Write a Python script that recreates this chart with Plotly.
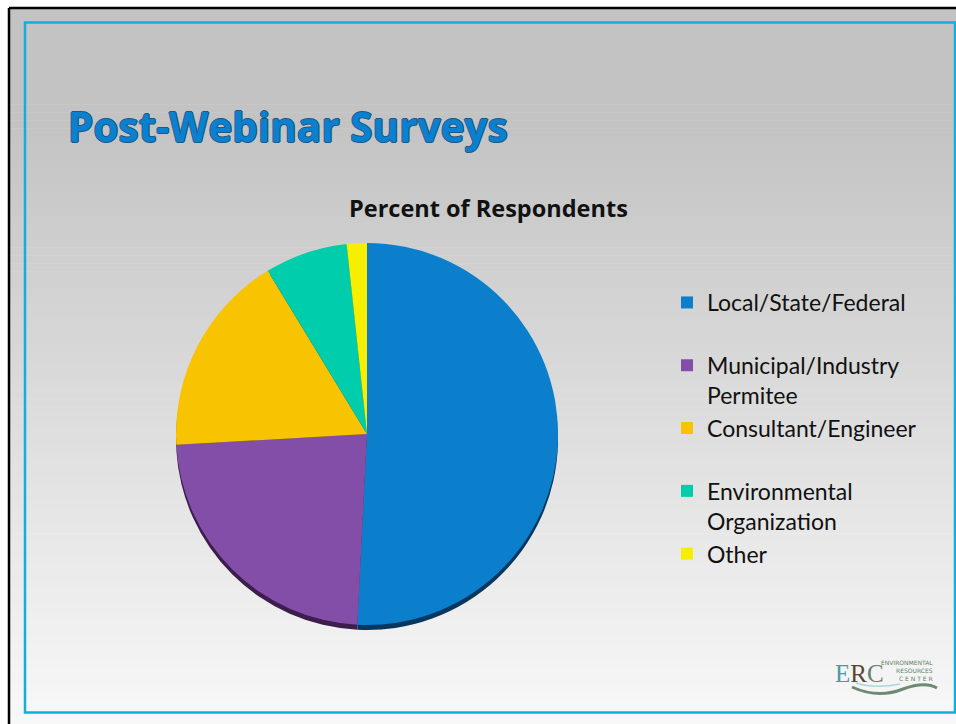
import plotly.graph_objects as go

W, H = 956, 724

# ---- data ----
categories = ["Local/State/Federal", "Municipal/Industry Permitee", "Consultant/Engineer",
              "Environmental Organization", "Other"]
legend_labels = ["Local/State/Federal<br> ", "Municipal/Industry<br>Permitee",
                 "Consultant/Engineer<br> ", "Environmental<br>Organization", "Other<br> "]
percent_values = [50.8, 23.3, 17.2, 7.0, 1.7]
slice_colors = ["#0b7fcb", "#834ea8", "#f8c300", "#00cdab", "#f6ef00"]
shadow_colors = ["#07375e", "#3c1d4c", "#6a5200", "#005a4a", "#6a6600"]

title_text = "Post-Webinar Surveys"
chart_title = "Percent of Respondents"


def px(x):
    return x / W


def py(y):
    return 1 - y / H


shapes = []
shapes.append(dict(type="rect", xref="paper", yref="paper", x0=0, x1=1, y0=0, y1=1,
                   fillcolor="white", line=dict(width=0), layer="below"))
# gradient background (horizontal strips)
n = 90
top_y, bot_y = 9, H
c0 = (195, 195, 195)
c1 = (248, 248, 248)
for i in range(n):
    ya = top_y + (bot_y - top_y) * i / n
    yb = top_y + (bot_y - top_y) * (i + 1) / n
    t = i / (n - 1)
    tt = max(0.0, (t - 0.15) / 0.85)
    col = tuple(int(round(c0[k] + (c1[k] - c0[k]) * tt)) for k in range(3))
    shapes.append(dict(type="rect", xref="paper", yref="paper",
                       x0=px(10), x1=1.0, y0=py(yb + 0.5), y1=py(ya),
                       fillcolor="rgb(%d,%d,%d)" % col, line=dict(width=0), layer="below"))
# black frame lines
shapes.append(dict(type="line", xref="paper", yref="paper", x0=px(9), x1=1, y0=py(8), y1=py(8),
                   line=dict(color="black", width=2.5), layer="below"))
shapes.append(dict(type="line", xref="paper", yref="paper", x0=px(9), x1=px(9), y0=py(8), y1=0,
                   line=dict(color="black", width=2.5), layer="below"))
# cyan inner frame
shapes.append(dict(type="rect", xref="paper", yref="paper", x0=px(25), x1=px(955), y0=py(712.5), y1=py(22.5),
                   fillcolor="rgba(0,0,0,0)", line=dict(color="#0fb0de", width=2.5), layer="below"))
# logo wave
shapes.append(dict(type="path", xref="paper", yref="paper",
                   path="M %f,%f Q %f,%f %f,%f Q %f,%f %f,%f" % (
                       px(852), py(687), px(878), py(699), px(903), py(689),
                       px(925), py(681), px(937), py(688)),
                   line=dict(color="#6f8a72", width=3), fillcolor="rgba(0,0,0,0)"))
shapes.append(dict(type="path", xref="paper", yref="paper",
                   path="M %f,%f Q %f,%f %f,%f" % (px(856), py(683), px(875), py(689), px(900), py(684)),
                   line=dict(color="#a9d6dc", width=1.5), fillcolor="rgba(0,0,0,0)"))

cx, cy, r = 367, 434, 191
sh = 5

fig = go.Figure()
fig.add_trace(go.Pie(
    labels=[c + " (shadow)" for c in categories], values=percent_values, sort=False,
    direction="clockwise", rotation=0, showlegend=False, textinfo="none", hoverinfo="skip",
    marker=dict(colors=shadow_colors, line=dict(width=0)),
    domain=dict(x=[px(cx - r), px(cx + r)], y=[py(cy + sh + r), py(cy + sh - r)]),
))
fig.add_trace(go.Pie(
    labels=legend_labels, values=percent_values, sort=False,
    direction="clockwise", rotation=0, textinfo="none",
    marker=dict(colors=slice_colors, line=dict(width=0)),
    domain=dict(x=[px(cx - r), px(cx + r)], y=[py(cy + r), py(cy - r)]),
))

annotations = [
    dict(text="<b>%s</b>" % title_text, x=px(66), y=py(126), xref="paper", yref="paper",
         xanchor="left", yanchor="middle", showarrow=False,
         font=dict(family="Open Sans", size=40.5, color="#0a80d0",
                   shadow="-1px 0 #23557e, 1px 0 #23557e, 0 -1px #23557e, 0 1px #23557e")),
    dict(text="<b>%s</b>" % chart_title, x=px(488), y=py(208), xref="paper", yref="paper",
         xanchor="center", yanchor="middle", showarrow=False,
         font=dict(family="Open Sans", size=23.5, color="#111111")),
    # logo
    dict(text="<span style='color:#4d9aa3'>E</span><span style='color:#5a4535'>R</span>"
              "<span style='color:#63806a'>C</span>",
         x=px(833), y=py(673), xref="paper", yref="paper", showarrow=False,
         xanchor="left", yanchor="middle",
         font=dict(family="Liberation Serif", size=25)),
    dict(text="ENVIRONMENTAL<br>RESOURCES<br>C E N T E R", x=px(935), y=py(670),
         xref="paper", yref="paper", showarrow=False, xanchor="right", yanchor="middle",
         align="right", font=dict(family="DejaVu Sans", size=6, color="#5f7f68")),
]

fig.update_layout(
    width=W, height=H, margin=dict(l=0, r=0, t=0, b=0),
    paper_bgcolor="white", plot_bgcolor="rgba(0,0,0,0)",
    shapes=shapes, annotations=annotations,
    legend=dict(x=px(667), y=py(281), xanchor="left", yanchor="top", valign="top",
                bgcolor="rgba(0,0,0,0)", traceorder="normal",
                font=dict(family="Lato", size=23, color="#111111"),
                itemclick=False, itemdoubleclick=False),
)

fig.write_html("out.html", config={"displayModeBar": False},
               post_script="document.body.style.margin='0';document.body.style.overflow='hidden';")
